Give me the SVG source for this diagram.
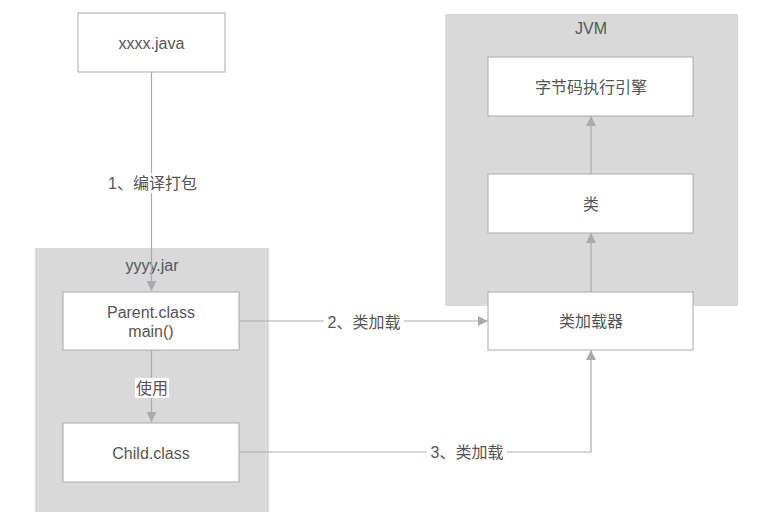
<svg xmlns="http://www.w3.org/2000/svg" width="774" height="530" viewBox="0 0 774 530">
<style>
.cont{fill:#d9d9d9;stroke:none}
.box{fill:#fff;stroke:#aaa;stroke-width:1}
.t{font-family:"Liberation Sans","Noto Sans CJK SC",Arial,sans-serif;font-size:16px;fill:#555;text-anchor:middle;dominant-baseline:central}
.ln{fill:none;stroke:#aaa;stroke-width:1.2}
.lb{fill:#fff}
</style>
<defs>
<marker id="ah" viewBox="0 0 10 10" refX="10" refY="5" markerWidth="10" markerHeight="10" markerUnits="userSpaceOnUse" orient="auto">
<path d="M0,0 L10,5 L0,10 z" fill="#aaa"/>
</marker>
</defs>
<rect width="774" height="530" fill="#fff"/>
<g id="jar">
<rect class="cont" x="35" y="248" width="234" height="264"/>
<text class="t" x="152" y="265">yyyy.jar</text>
</g>
<g id="jvm">
<rect class="cont" x="445" y="14" width="293" height="292"/>
<text class="t" x="591" y="28">JVM</text>
</g>
<g id="connectors">
<line class="ln" x1="151.5" y1="72" x2="151.5" y2="291" marker-end="url(#ah)"/>
<rect class="lb" x="108" y="173" width="90" height="20"/>
<text class="t" x="152.5" y="183">1、编译打包</text>
<line class="ln" x1="151.5" y1="350" x2="151.5" y2="422" marker-end="url(#ah)"/>
<rect class="lb" x="135" y="378" width="34" height="20"/>
<text class="t" x="152" y="388">使用</text>
<line class="ln" x1="239" y1="321" x2="488" y2="321" marker-end="url(#ah)"/>
<rect class="lb" x="324" y="312" width="80" height="20"/>
<text class="t" x="364" y="322">2、类加载</text>
<polyline class="ln" points="239,452 591,452 591,350" marker-end="url(#ah)"/>
<rect class="lb" x="427" y="443" width="80" height="20"/>
<text class="t" x="467" y="452">3、类加载</text>
<line class="ln" x1="591" y1="292" x2="591" y2="233" marker-end="url(#ah)"/>
<line class="ln" x1="591" y1="174" x2="591" y2="116" marker-end="url(#ah)"/>
</g>
<g id="java">
<rect class="box" x="78" y="13" width="147" height="59"/>
<text class="t" x="151.5" y="43">xxxx.java</text>
</g>
<g id="parent">
<rect class="box" x="63" y="292" width="176" height="58"/>
<text class="t" x="151" y="312">Parent.class</text>
<text class="t" x="151" y="331">main()</text>
</g>
<g id="child">
<rect class="box" x="63" y="423" width="176" height="59"/>
<text class="t" x="151" y="453">Child.class</text>
</g>
<g id="engine">
<rect class="box" x="488" y="57" width="205" height="59"/>
<text class="t" x="591" y="87">字节码执行引擎</text>
</g>
<g id="class">
<rect class="box" x="488" y="174" width="205" height="59"/>
<text class="t" x="591" y="204">类</text>
</g>
<g id="loader">
<rect class="box" x="488" y="292" width="205" height="58"/>
<text class="t" x="591" y="321">类加载器</text>
</g>
</svg>
